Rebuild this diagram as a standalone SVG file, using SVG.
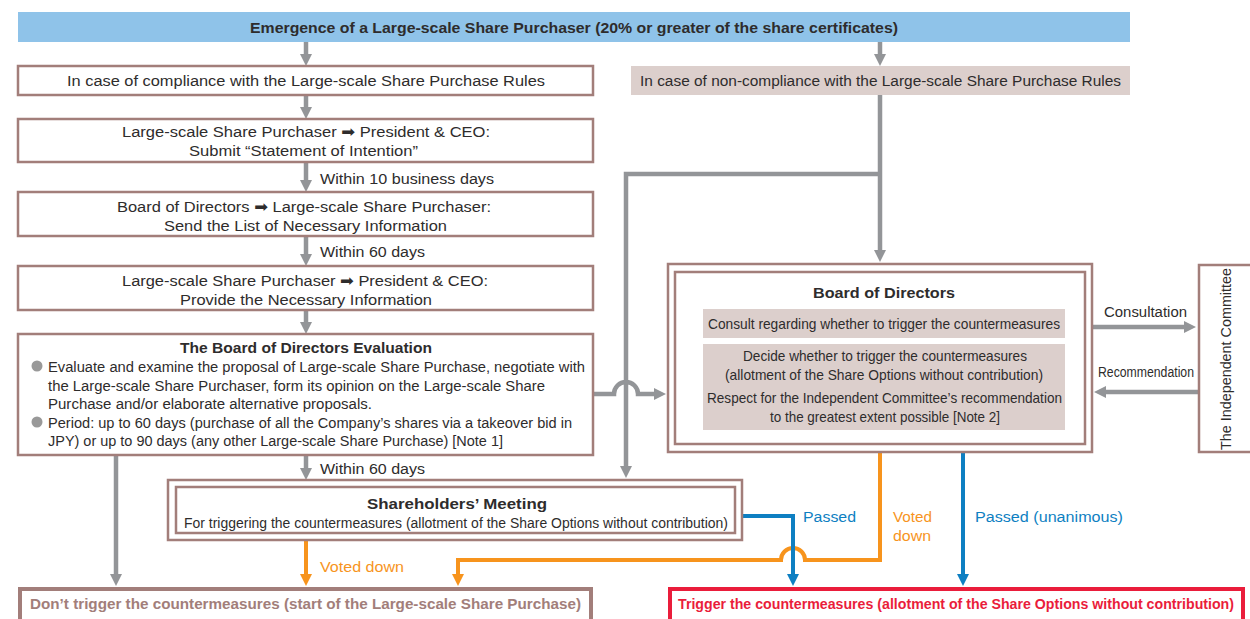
<svg xmlns="http://www.w3.org/2000/svg" width="1250" height="619" viewBox="0 0 1250 619">
<style>
text{font-family:"Liberation Sans","DejaVu Sans",sans-serif;font-size:15.5px;fill:#2e2c2c}
.b{font-weight:bold}
.m{text-anchor:middle}
.box{fill:#fff;stroke:#a27e7a;stroke-width:2.5}
.shade{fill:#dccfcc}
.g{fill:none;stroke:#939598;stroke-width:4.5}
.o{fill:none;stroke:#f7941d;stroke-width:4}
.bl{fill:none;stroke:#0e7fc2;stroke-width:4}
.ot{fill:#f7941d}
.bt{fill:#0e7fc2}
</style>
<defs>
<marker id="ag" viewBox="0 0 12 12" refX="2" refY="6" markerWidth="12" markerHeight="12" markerUnits="userSpaceOnUse" orient="auto"><path d="M0,0 L12,6 L0,12 z" fill="#939598"/></marker>
<marker id="ao" viewBox="0 0 12 12" refX="2" refY="6" markerWidth="12" markerHeight="12" markerUnits="userSpaceOnUse" orient="auto"><path d="M0,0 L12,6 L0,12 z" fill="#f7941d"/></marker>
<marker id="ab" viewBox="0 0 12 12" refX="2" refY="6" markerWidth="12" markerHeight="12" markerUnits="userSpaceOnUse" orient="auto"><path d="M0,0 L12,6 L0,12 z" fill="#0e7fc2"/></marker>
</defs>

<g id="connectors">
<path class="g" d="M306,42 V56" marker-end="url(#ag)"/>
<path class="g" d="M880,42 V56" marker-end="url(#ag)"/>
<path class="g" d="M306,95 V109" marker-end="url(#ag)"/>
<path class="g" d="M306,162 V182" marker-end="url(#ag)"/>
<path class="g" d="M306,236 V256" marker-end="url(#ag)"/>
<path class="g" d="M306,310 V324" marker-end="url(#ag)"/>
<path class="g" d="M306,455 V470" marker-end="url(#ag)"/>
<path class="g" d="M880,95 V252" marker-end="url(#ag)"/>
<path class="g" d="M880,174 H626 V468" marker-end="url(#ag)"/>
<path class="g" d="M593,394 H614 A12,12 0 0 1 638,394 H656" marker-end="url(#ag)"/>
<path class="g" d="M116,455 V576" marker-end="url(#ag)"/>
<path class="g" d="M1092,327 H1186" marker-end="url(#ag)"/>
<path class="g" d="M1198,392 H1104" marker-end="url(#ag)"/>
<path class="o" d="M306,540 V576" marker-end="url(#ao)"/>
<path class="o" d="M880,452 V560 H805 A12,12 0 0 0 781,560 H458 V576" marker-end="url(#ao)"/>
<path class="bl" d="M742,516 H793 V576" marker-end="url(#ab)"/>
<path class="bl" d="M963,452 V576" marker-end="url(#ab)"/>
<text x="320" y="183.5" textLength="174" lengthAdjust="spacingAndGlyphs">Within 10 business days</text>
<text x="320" y="256.5" textLength="105" lengthAdjust="spacingAndGlyphs">Within 60 days</text>
<text x="320" y="473.5" textLength="105" lengthAdjust="spacingAndGlyphs">Within 60 days</text>
<text class="ot" x="320" y="571.5" textLength="84" lengthAdjust="spacingAndGlyphs">Voted down</text>
<text class="bt" x="803" y="521.5" textLength="53" lengthAdjust="spacingAndGlyphs">Passed</text>
<text class="ot" x="893" y="521.5" textLength="39" lengthAdjust="spacingAndGlyphs">Voted</text>
<text class="ot" x="893" y="540.5" textLength="38" lengthAdjust="spacingAndGlyphs">down</text>
<text class="bt" x="975" y="521.5" textLength="148" lengthAdjust="spacingAndGlyphs">Passed (unanimous)</text>
<text x="1104" y="316.5" textLength="83" lengthAdjust="spacingAndGlyphs">Consultation</text>
<text x="1098" y="376.5" style="font-size:14px" textLength="96" lengthAdjust="spacingAndGlyphs">Recommendation</text>
</g>

<g id="emergence">
<rect x="18" y="12" width="1112" height="30" fill="#8fc3e9"/>
<text class="b m" x="574" y="32.5" textLength="648" lengthAdjust="spacingAndGlyphs">Emergence of a Large-scale Share Purchaser (20% or greater of the share certificates)</text>
</g>

<g id="compliance">
<rect class="box" x="18" y="66" width="575" height="29"/>
<text class="m" x="306" y="86" textLength="478" lengthAdjust="spacingAndGlyphs">In case of compliance with the Large-scale Share Purchase Rules</text>
</g>

<g id="noncompliance">
<rect class="shade" x="631" y="66" width="499" height="29"/>
<text class="m" x="880.5" y="86" textLength="481" lengthAdjust="spacingAndGlyphs">In case of non-compliance with the Large-scale Share Purchase Rules</text>
</g>

<g id="statement">
<rect class="box" x="18" y="119" width="575" height="43"/>
<text class="m" x="306" y="136.5" textLength="368" lengthAdjust="spacingAndGlyphs">Large-scale Share Purchaser ➡ President &amp; CEO:</text>
<text class="m" x="303.5" y="155.5" textLength="229" lengthAdjust="spacingAndGlyphs">Submit “Statement of Intention”</text>
</g>

<g id="list">
<rect class="box" x="18" y="192" width="575" height="44"/>
<text class="m" x="304" y="211.5" textLength="374" lengthAdjust="spacingAndGlyphs">Board of Directors ➡ Large-scale Share Purchaser:</text>
<text class="m" x="305.5" y="230.5" textLength="283" lengthAdjust="spacingAndGlyphs">Send the List of Necessary Information</text>
</g>

<g id="provide">
<rect class="box" x="18" y="266" width="575" height="44"/>
<text class="m" x="305" y="285.5" textLength="366" lengthAdjust="spacingAndGlyphs">Large-scale Share Purchaser ➡ President &amp; CEO:</text>
<text class="m" x="306" y="304.5" textLength="252" lengthAdjust="spacingAndGlyphs">Provide the Necessary Information</text>
</g>

<g id="evaluation">
<rect class="box" x="18" y="334" width="575" height="121"/>
<text class="b m" x="306" y="352.5" textLength="252" lengthAdjust="spacingAndGlyphs">The Board of Directors Evaluation</text>
<circle cx="37" cy="366" r="5.5" fill="#999"/>
<circle cx="37" cy="422" r="5.5" fill="#999"/>
<text x="48" y="371.5" textLength="537" lengthAdjust="spacingAndGlyphs">Evaluate and examine the proposal of Large-scale Share Purchase, negotiate with</text>
<text x="48" y="390.5" textLength="497" lengthAdjust="spacingAndGlyphs">the Large-scale Share Purchaser, form its opinion on the Large-scale Share</text>
<text x="48" y="408.5" textLength="324" lengthAdjust="spacingAndGlyphs">Purchase and/or elaborate alternative proposals.</text>
<text x="48" y="427.5" textLength="524" lengthAdjust="spacingAndGlyphs">Period: up to 60 days (purchase of all the Company’s shares via a takeover bid in</text>
<text x="48" y="445.5" textLength="455" lengthAdjust="spacingAndGlyphs">JPY) or up to 90 days (any other Large-scale Share Purchase) [Note 1]</text>
</g>

<g id="shareholders">
<rect class="box" x="168" y="480" width="574" height="60"/>
<rect class="box" x="176" y="487" width="559" height="46"/>
<text class="b m" x="457" y="508.5" textLength="180" lengthAdjust="spacingAndGlyphs">Shareholders’ Meeting</text>
<text class="m" x="456" y="527.5" textLength="544" lengthAdjust="spacingAndGlyphs">For triggering the countermeasures (allotment of the Share Options without contribution)</text>
</g>

<g id="board">
<rect class="box" x="668" y="264" width="424" height="188"/>
<rect class="box" x="675" y="272" width="410" height="172"/>
<text class="b m" x="884" y="297.5" textLength="142" lengthAdjust="spacingAndGlyphs">Board of Directors</text>
<rect class="shade" x="703" y="309" width="362" height="29"/>
<text class="m" x="884" y="329" style="font-size:14.5px" textLength="352" lengthAdjust="spacingAndGlyphs">Consult regarding whether to trigger the countermeasures</text>
<rect class="shade" x="703" y="344" width="362" height="86"/>
<text class="m" x="885" y="361" style="font-size:14.5px" textLength="284" lengthAdjust="spacingAndGlyphs">Decide whether to trigger the countermeasures</text>
<text class="m" x="884" y="380" style="font-size:14.5px" textLength="318" lengthAdjust="spacingAndGlyphs">(allotment of the Share Options without contribution)</text>
<text class="m" x="884.5" y="403" style="font-size:14.5px" textLength="355" lengthAdjust="spacingAndGlyphs">Respect for the Independent Committee’s recommendation</text>
<text class="m" x="885" y="422" style="font-size:14.5px" textLength="230" lengthAdjust="spacingAndGlyphs">to the greatest extent possible [Note 2]</text>
</g>

<g id="committee">
<rect class="box" x="1199" y="265" width="60" height="187"/>
<text class="m" transform="translate(1231,359) rotate(-90)" style="font-size:14.5px" textLength="182" lengthAdjust="spacingAndGlyphs">The Independent Committee</text>
</g>

<g id="donttrigger">
<rect x="20" y="589" width="571" height="40" fill="#fff" stroke="#a27e7a" stroke-width="4"/>
<text class="b m" x="305.5" y="609" style="fill:#a27e7a" textLength="551" lengthAdjust="spacingAndGlyphs">Don’t trigger the countermeasures (start of the Large-scale Share Purchase)</text>
</g>

<g id="trigger">
<rect x="670" y="589" width="573" height="40" fill="#fff" stroke="#ea1d3b" stroke-width="4"/>
<text class="b m" x="956" y="609" style="fill:#ea1d3b" textLength="556" lengthAdjust="spacingAndGlyphs">Trigger the countermeasures (allotment of the Share Options without contribution)</text>
</g>
</svg>
